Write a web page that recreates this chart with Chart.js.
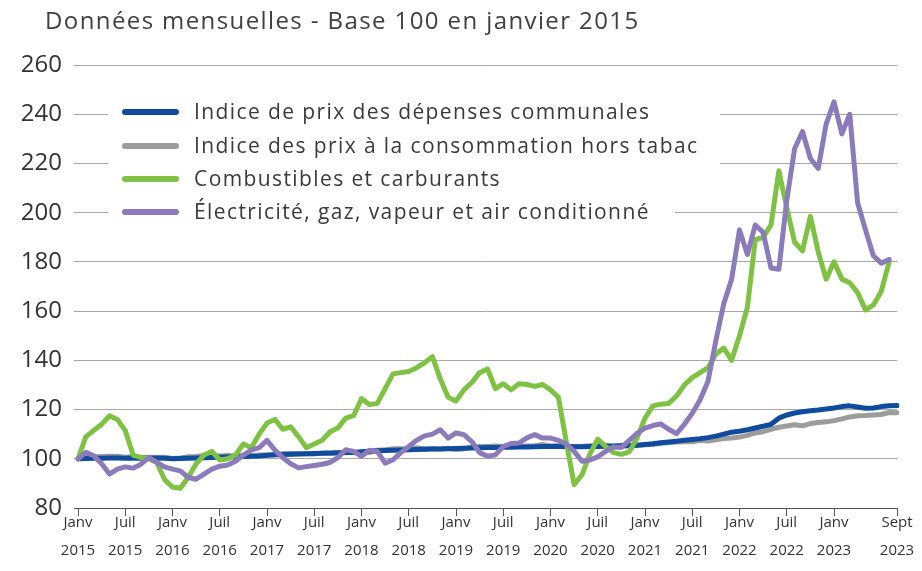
<!DOCTYPE html>
<html lang="fr">
<head>
<meta charset="utf-8">
<title>Données mensuelles - Base 100 en janvier 2015</title>
<script src="https://cdn.jsdelivr.net/npm/chart.js@4/dist/chart.umd.min.js"></script>
<style>
  html, body { margin: 0; padding: 0; background: #fff; }
  #cadre { position: relative; width: 922px; height: 571px; }
</style>
</head>
<body>
<div id="cadre"><canvas id="graphique"></canvas></div>
<script>
// Données (base 100 en janvier 2015), de janvier 2015 à septembre 2023
const annees = [2015, 2016, 2017, 2018, 2019, 2020, 2021, 2022, 2023];
const nomsMois = ['Janv', 'Févr', 'Mars', 'Avr', 'Mai', 'Juin', 'Juil', 'Août', 'Sept', 'Oct', 'Nov', 'Déc'];
const moisAffiches = ['Janv', 'Juil'];
const dernierMois = 'Sept';

const titreGraphique = 'Données mensuelles - Base 100 en janvier 2015';
const nomsSeries = [
    'Indice de prix des dépenses communales',
    'Indice des prix à la consommation hors tabac',
    'Combustibles et carburants',
    'Électricité, gaz, vapeur et air conditionné'
];

const depensesCommunales = [
    100, 100.1, 100.2, 100.2, 100.3, 100.3, 100.2, 100.3, 100.2, 100.2, 100.3, 100.2,
    100, 100.1, 100.2, 100.3, 100.4, 100.5, 100.6, 100.7, 100.8, 100.9, 101, 101.1,
    101.4, 101.6, 101.7, 101.8, 101.9, 102, 102.1, 102.2, 102.3, 102.4, 102.5, 102.6,
    102.9, 103.1, 103.3, 103.4, 103.5, 103.6, 103.7, 103.8, 103.9, 104, 104, 104.1,
    104.2, 104.3, 104.4, 104.5, 104.6, 104.6, 104.7, 104.7, 104.8, 104.8, 104.9, 105,
    105, 105.1, 105, 104.9, 104.9, 105, 105, 105.1, 105.2, 105.3, 105.4, 105.5,
    105.8, 106.1, 106.5, 106.8, 107.1, 107.5, 107.8, 108.1, 108.6, 109.2, 110, 110.8,
    111.2, 111.8, 112.5, 113.2, 114, 116.5, 117.8, 118.6, 119.1, 119.5, 119.8, 120.2,
    120.6, 121.2, 121.5, 121, 120.5, 120.6, 121.2, 121.5, 121.6
];

const prixConsoHorsTabac = [
    100, 100.6, 100.8, 100.9, 101, 101, 100.6, 100.9, 100.5, 100.6, 100.5, 100.6,
    100.1, 100.3, 100.8, 100.9, 101.3, 101.4, 101.1, 101.3, 101.1, 101.3, 101.2, 101.5,
    101.5, 101.6, 102, 102.1, 102, 102, 101.9, 102.3, 102.1, 102.3, 102.4, 102.7,
    102.6, 102.6, 103.5, 103.7, 104.1, 104.1, 103.9, 104.5, 104, 104.2, 104, 104.3,
    103.8, 104, 104.8, 105, 105, 105.2, 105, 105.5, 105.1, 105.2, 105.3, 105.8,
    105.2, 105.2, 105.1, 105, 105.1, 105.3, 105.4, 105.5, 105, 105.3, 105.1, 105.4,
    105.7, 105.8, 106.3, 106.5, 106.8, 106.9, 106.9, 107.5, 107.2, 107.7, 108.2, 108.4,
    108.8, 109.5, 110.5, 111, 112, 112.8, 113.3, 113.8, 113.4, 114.3, 114.7, 115,
    115.5, 116.2, 117, 117.5, 117.6, 117.8, 118, 118.8, 118.7
];

// jusqu'en août 2023
const combustibles = [
    100, 109, 111.5, 114, 117.5, 116, 111.5, 101.5, 100.5, 100, 98.5, 91.5,
    88.5, 88, 92.5, 98, 101.5, 103, 99.5, 100, 101.5, 106, 104.5, 110,
    114.5, 116, 112, 113, 109, 104.5, 106, 107.5, 111, 112.5, 116.5, 117.5,
    124.5, 122, 122.5, 128.5, 134.5, 135, 135.5, 137, 139, 141.5, 132.5, 125,
    123.5, 128, 131, 135, 136.5, 128.5, 130.5, 128, 130.5, 130.2, 129.4, 130.2,
    128, 125, 107, 89.5, 93.5, 102, 108, 105, 102.5, 101.8, 102.8, 108.5,
    116.5, 121.5, 122.2, 122.5, 125.5, 130, 133, 135, 137, 142.5, 145, 140,
    150, 161.5, 189, 190, 195, 217, 202, 188, 184.5, 198.5, 184, 173,
    180, 173, 171.5, 167.5, 160.5, 162.5, 168, 180
];

const electriciteGaz = [
    100, 102.6, 101.2, 98, 93.8, 95.8, 96.7, 96.2, 97.8, 100.5, 98.5, 96.7,
    95.8, 95.1, 92.4, 91.7, 93.8, 95.8, 97, 97.5, 99, 101.5, 103.5, 104.5,
    107.5, 103.5, 100.5, 98, 96.3, 96.8, 97.3, 97.8, 98.5, 100.5, 103.7, 103,
    101, 103.5, 103, 98.2, 99.6, 102.5, 105, 107.5, 109.3, 110, 111.8, 108.4,
    110.5, 109.8, 107, 102.5, 101, 101.6, 105, 106.2, 106.4, 108.5, 109.8, 108.4,
    108.4, 107.5, 106, 103, 99, 99.5, 100.8, 103, 104.8, 104.6, 107.5, 110.3,
    112.5, 113.5, 114.2, 112, 110.2, 114, 118.5, 124, 131.5, 148, 163, 173,
    193, 183, 195, 192, 177.5, 177, 205, 226, 233, 222, 218, 236,
    245, 232, 240, 204, 193, 182.5, 179.5, 181
];

const couleurs = ['#0f4c9e', '#9c9c9c', '#7dc243', '#8b7bbb'];
const ordreDessin = [3, 4, 2, 1];

// Construction des libellés mensuels
const libellesMois = [];
annees.forEach(annee => {
    nomsMois.forEach(mois => {
        if (annee === 2023 && nomsMois.indexOf(mois) > nomsMois.indexOf(dernierMois)) return;
        libellesMois.push({ mois: mois, annee: annee });
    });
});

const policeTexte = "'Open Sans', 'DejaVu Sans', sans-serif";
Chart.defaults.font.family = policeTexte;
Chart.defaults.color = '#3a3a3a';

// Titre en haut à gauche et légende dans la zone du graphique
const pluginTitreLegende = {
    id: 'titreLegende',
    beforeDatasetsDraw(chart) {
        const ctx = chart.ctx;
        ctx.save();
        ctx.fillStyle = '#ffffff';
        ctx.fillRect(108, 96, 612, 100);
        ctx.fillRect(108, 196, 567, 32);
        const lignesY = [112, 146, 179, 212];
        chart.data.datasets.forEach((ds, i) => {
            const y = lignesY[i];
            ctx.strokeStyle = ds.borderColor;
            ctx.lineWidth = 6;
            ctx.lineCap = 'round';
            ctx.beginPath();
            ctx.moveTo(125, y);
            ctx.lineTo(176, y);
            ctx.stroke();
            ctx.fillStyle = '#3a3a3a';
            ctx.font = '21px ' + policeTexte;
            ctx.letterSpacing = '1.4px';
            ctx.textAlign = 'left';
            ctx.textBaseline = 'middle';
            ctx.fillText(ds.label, 194, y + 1);
        });
        ctx.restore();
    },
    afterDraw(chart) {
        const ctx = chart.ctx;
        ctx.save();
        ctx.fillStyle = '#404040';
        ctx.font = '24px ' + policeTexte;
        ctx.letterSpacing = '1.4px';
        ctx.textAlign = 'left';
        ctx.textBaseline = 'middle';
        ctx.fillText(titreGraphique, 45, 22);
        ctx.restore();
    }
};

const seriesValeurs = [depensesCommunales, prixConsoHorsTabac, combustibles, electriciteGaz];

new Chart(document.getElementById('graphique'), {
    type: 'line',
    data: {
        labels: libellesMois.map(m => m.mois + ' ' + m.annee),
        datasets: seriesValeurs.map((valeurs, i) => ({
            label: nomsSeries[i],
            data: valeurs,
            borderColor: couleurs[i],
            backgroundColor: couleurs[i],
            borderWidth: 5,
            pointRadius: 0,
            tension: 0,
            borderJoinStyle: 'round',
            borderCapStyle: 'round',
            order: ordreDessin[i]
        }))
    },
    options: {
        responsive: true,
        maintainAspectRatio: false,
        animation: false,
        layout: { padding: { top: 65, right: 25, left: 0, bottom: 0 } },
        plugins: {
            legend: { display: false },
            title: { display: false },
            tooltip: { enabled: false }
        },
        scales: {
            x: {
                offset: false,
                grid: {
                    display: true,
                    drawOnChartArea: false,
                    drawTicks: true,
                    tickLength: 8,
                    color: '#555555'
                },
                border: { display: true, color: '#555555', width: 1 },
                ticks: {
                    autoSkip: false,
                    maxRotation: 0,
                    padding: -7,
                    color: '#333333',
                    font: { size: 15, lineHeight: 1.87 },
                    callback: function (valeur, index) {
                        const m = libellesMois[index];
                        const dernier = index === libellesMois.length - 1;
                        const debutAnnee = m.annee === annees[annees.length - 1] && m.mois !== 'Janv';
                        if (dernier || (moisAffiches.includes(m.mois) && !debutAnnee)) {
                            return [m.mois, String(m.annee)];
                        }
                        return null;
                    }
                },
                afterFit: function (scale) { scale.height = 63; }
            },
            y: {
                min: 80,
                max: 260,
                grid: {
                    color: ctx => (ctx.tick && ctx.tick.value === 80) ? '#555555' : '#a8a8a8',
                    lineWidth: 1,
                    drawTicks: true,
                    tickLength: 4
                },
                border: { display: false },
                ticks: {
                    stepSize: 20,
                    padding: 12,
                    color: '#333333',
                    font: { size: 24 }
                },
                afterFit: function (scale) { scale.width = 78; }
            }
        }
    },
    plugins: [pluginTitreLegende]
});
</script>
</body>
</html>
